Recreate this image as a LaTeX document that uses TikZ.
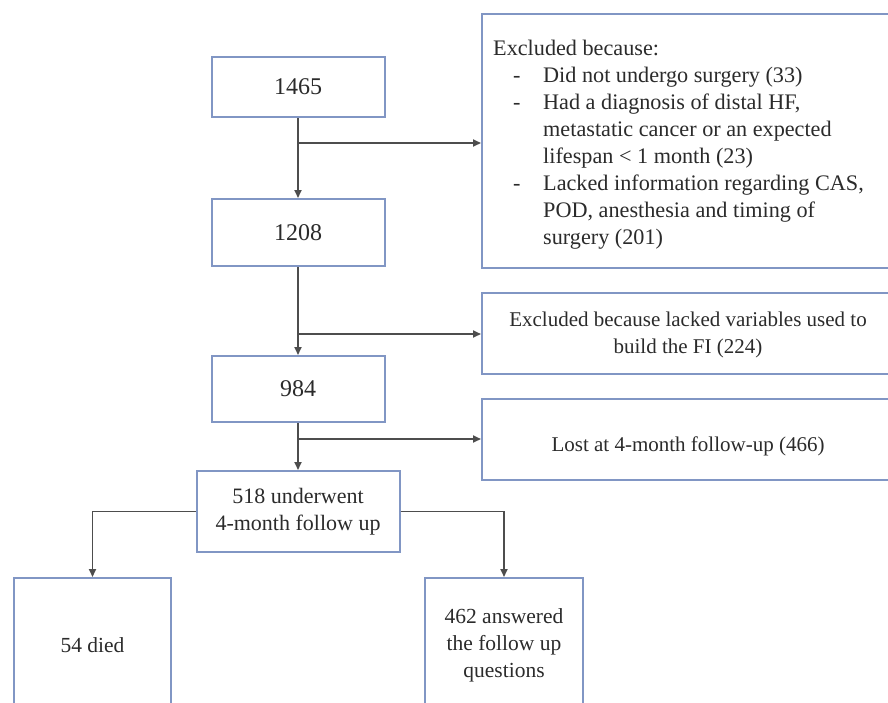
\documentclass[tikz,border=0pt]{standalone}
\usepackage{fontspec}
\setmainfont{Liberation Serif}
\newfontfamily\tnr{Liberation Serif}
\usetikzlibrary{arrows.meta}
\definecolor{boxc}{HTML}{8196C4}
\definecolor{linec}{HTML}{4D4D4D}
\definecolor{txtc}{HTML}{2B2B2B}
\tikzset{
  flowbox/.style={draw=boxc, line width=2pt, fill=white, inner sep=0pt, text=txtc,
    font=\tnr\fontsize{21.5}{27}\selectfont, align=center},
  numbox/.style={flowbox, font=\tnr\fontsize{24}{28}\selectfont},
  plaintext/.style={inner sep=0pt, text=txtc, align=center, font=\tnr\fontsize{21}{26.5}\selectfont},
  txtline/.style={anchor=base west, inner sep=0pt, text=txtc, font=\tnr\fontsize{22.2}{27}\selectfont},
  conn/.style={draw=linec, line width=1.8pt},
  arr/.style={conn, -{Triangle[length=8pt,width=7pt]}}
}
\begin{document}
\begin{tikzpicture}[x=1pt,y=-1pt]
\useasboundingbox (0,0) rectangle (888,702);
\fill[white] (0,0) rectangle (888,702);
\begin{scope}
\clip (0,0) rectangle (888,702);
% main column
\node[numbox, minimum width=173pt, minimum height=60pt] (n1465) at (298,87) {1465};
\node[numbox, minimum width=173pt, minimum height=67pt] (n1208) at (298,232.5) {1208};
\node[numbox, minimum width=173pt, minimum height=66pt] (n984) at (298,389) {984};
\node[flowbox, minimum width=203pt, minimum height=81pt, font=\tnr\fontsize{22}{27}\selectfont] (n518) at (298,511.5) {518 underwent\\4-month follow up};
% exclusion boxes
\node[flowbox, minimum width=413pt, minimum height=254pt] (ex1) at (688.5,141) {};
\node[flowbox, minimum width=413pt, minimum height=81pt] (ex2) at (688.5,333.5) {};
\node[plaintext] (ex2t) at (688,335) {Excluded because lacked variables used to\\build the FI (224)};
\node[flowbox, minimum width=413pt, minimum height=81pt] (lost) at (688.5,439.5) {};
\node[plaintext] (lostt) at (688,446) {Lost at 4-month follow-up (466)};
% outcome boxes
\node[flowbox, minimum width=157pt, minimum height=134pt] (died) at (92.5,645) {54 died};
\node[flowbox, minimum width=158pt, minimum height=134pt] (ans) at (504,645) {462 answered\\the follow up\\questions};
% text of first exclusion box
\node[txtline] (e1a) at (493,55) {Excluded because:};
\node[txtline] (e1b) at (513,82) {-};
\node[txtline] (e1c) at (543,82) {Did not undergo surgery (33)};
\node[txtline] (e1d) at (513,109) {-};
\node[txtline] (e1e) at (543,109) {Had a diagnosis of distal HF,};
\node[txtline] (e1f) at (543,136) {metastatic cancer or an expected};
\node[txtline] (e1g) at (543,163) {lifespan < 1 month (23)};
\node[txtline] (e1h) at (513,190) {-};
\node[txtline] (e1i) at (543,190) {Lacked information regarding CAS,};
\node[txtline] (e1j) at (543,217) {POD, anesthesia and timing of};
\node[txtline] (e1k) at (543,244) {surgery (201)};
% connectors
\coordinate (b1) at (298,143);
\coordinate (b2) at (298,334);
\coordinate (b3) at (298,439);
\draw[arr] (n1465.south) -- (n1208.north);
\draw[arr] (b1) -- (b1 -| ex1.west);
\draw[arr] (n1208.south) -- (n984.north);
\draw[arr] (b2) -- (b2 -| ex2.west);
\draw[arr] (n984.south) -- (n518.north);
\draw[arr] (b3) -- (b3 -| lost.west);
\draw[arr] (n518.west) -| (died.north);
\draw[arr] (n518.east) -| (ans.north);
\end{scope}
\end{tikzpicture}
\end{document}
